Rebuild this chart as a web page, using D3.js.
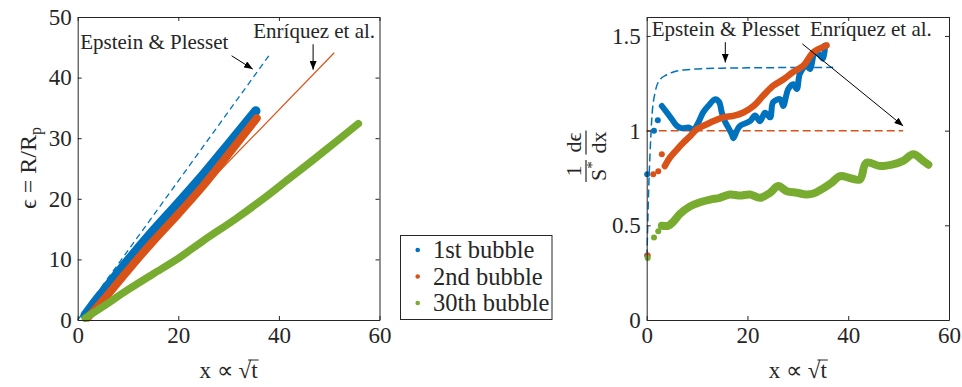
<!DOCTYPE html>
<html>
<head>
<meta charset="utf-8">
<script src="https://cdn.jsdelivr.net/npm/d3@7"></script>
<style>
  body { margin: 0; background: #fff; }
  svg { display: block; }
  svg text { font-family: "Liberation Serif", "Times New Roman", serif !important; fill: #262626; }
</style>
</head>
<body>
<script>
const blue = '#0072BD', orange = '#D95319', green = '#77AC30'

// left panel: epsilon vs x
const leftBlue = [[1.5,0.8],[3,2.5],[5,4.6],[10,9.8],[15,14.7],[20,19.3],[25,24],[30,29],[35.4,34.5]]
const leftOrange = [[2,0.4],[5,3.2],[10,8.2],[15,13],[20,17.5],[25,22.2],[30,27.4],[35.6,33.3]]
const leftGreen = [[1.5,0.3],[5,2.2],[10,5.0],[15,7.6],[19.7,10],[25,13.1],[31.6,16.8],[36.9,20],[42,23.3],[46.8,26.4],[51,29.2],[55.8,32.4]]
const epsteinLeft = [[0,0],[38,43.6]]
const enriquezLeft = [[5,4.7],[51,44.1]]

// right panel: normalised growth rate vs x
const epsteinRight = [[0.05,0.33],[0.2,0.5],[0.4,0.7],[0.65,0.87],[1.0,1.06],[1.65,1.2],[2.64,1.27],[4,1.295],[5.3,1.31],[8,1.322],[15,1.33],[37,1.334]]
const enriquezRight = [[0,1],[50.9,1]]
const rightBlueHead = [[0.1,0.77],[0.1,0.34],[1.45,1.0],[2.2,1.055]]
const rightBlue = [[3.0,1.13],[4.0,1.096],[5.0,1.06],[6.0,1.025],[6.9,1.013],[8.3,1.016],[9.3,1.007],[10.2,1.04],[11.2,1.096],[12.2,1.13],[13.6,1.166],[14.4,1.15],[14.9,1.096],[15.5,1.05],[16.2,1.016],[16.9,0.98],[17.2,0.96],[17.9,1.0],[18.5,1.025],[20.5,1.05],[21.5,1.08],[22.5,1.05],[23.5,1.095],[24.5,1.07],[25.1,1.15],[26.5,1.166],[27.1,1.13],[28.1,1.22],[29.1,1.245],[29.8,1.22],[30.4,1.3],[31.7,1.345],[32.4,1.325],[33.4,1.414],[34.3,1.4],[35,1.38],[35.4,1.45]]
const rightOrangeHead = [[0.2,0.34],[1.3,0.77],[2.3,0.785],[3.0,0.875]]
const rightOrange = [[3.6,0.813],[4.6,0.857],[6,0.9],[7.3,0.937],[8.6,0.97],[9.9,1.007],[11.2,1.025],[13.2,1.05],[15.2,1.07],[17.2,1.078],[19.2,1.096],[21.2,1.13],[23.1,1.184],[25.1,1.237],[27.1,1.27],[29.1,1.31],[31.1,1.343],[33.1,1.414],[35.7,1.45]]
const rightGreenHead = [[0.2,0.327],[1.45,0.436],[2.3,0.468]]
const rightGreen = [[3.0,0.498],[4.3,0.498],[5.3,0.52],[6.6,0.56],[8.6,0.6],[10.6,0.622],[12.6,0.636],[14.5,0.645],[16.5,0.663],[18.5,0.657],[20.5,0.663],[22.5,0.645],[24.5,0.672],[26.1,0.707],[27.8,0.68],[29.8,0.672],[31.7,0.663],[33.1,0.668],[34.7,0.69],[36.7,0.725],[38.4,0.76],[40.3,0.75],[42.3,0.742],[43.6,0.83],[46.3,0.813],[48.9,0.822],[50.9,0.84],[52.9,0.875],[54.9,0.84],[55.9,0.82]]

const xTicks = [0, 20, 40, 60]
const leftYTicks = [0, 10, 20, 30, 40, 50]
const rightYTicks = [0, 0.5, 1, 1.5]
const legendLabels = ['1st bubble', '2nd bubble', '30th bubble']
const legendColors = [blue, orange, green]

// annotations, in data units: [text x, text y], arrow [tail, head]
const annLeft = [
  {text: 'Epstein & Plesset', at: [0.5, 44.7], arrow: [[30.6, 43.6], [34.8, 41.4]]},
  {text: 'Enríquez et al.', at: [34.9, 46.5], arrow: [[46.8, 45.5], [46.8, 41.3]]},
]
const annRight = [
  {text: 'Epstein & Plesset', at: [1.0, 1.499], arrow: [[15.6, 1.467], [15.6, 1.36]]},
  {text: 'Enríquez et al.', at: [32.4, 1.499], arrow: [[30.9, 1.458], [50.9, 1.025]]},
]

const W = 962, H = 387
const SERIF = '"Liberation Serif", "Times New Roman", serif'
const svg = d3.select('body').append('svg').attr('width', W).attr('height', H)

svg.append('defs').append('marker')
  .attr('id', 'head')
  .attr('markerUnits', 'userSpaceOnUse')
  .attr('viewBox', '0 0 10 8')
  .attr('refX', 10).attr('refY', 4)
  .attr('markerWidth', 9).attr('markerHeight', 7)
  .attr('orient', 'auto')
  .append('path').attr('d', 'M0,0 L10,4 L0,8 Z').attr('fill', '#000')

const FS = 23

function frame(x, y, yTicks, yFormat) {
  const [x0, x1] = x.range(), [y0, y1] = y.range()
  const ax = g => {
    g.attr('font-family', SERIF).attr('font-size', FS)
    g.selectAll('.domain').attr('stroke', '#262626')
    g.selectAll('.tick line').attr('stroke', '#262626')
    g.selectAll('text').attr('fill', '#262626')
  }
  svg.append('g').attr('transform', `translate(0,${y0})`)
    .call(d3.axisBottom(x).tickValues(xTicks).tickSize(-4).tickSizeOuter(0).tickPadding(7)).call(ax)
  svg.append('g').attr('transform', `translate(0,${y1})`)
    .call(d3.axisTop(x).tickValues(xTicks).tickSize(-4).tickSizeOuter(0).tickFormat('')).call(ax)
  svg.append('g').attr('transform', `translate(${x0},0)`)
    .call(d3.axisLeft(y).tickValues(yTicks).tickFormat(yFormat).tickSize(-4).tickSizeOuter(0).tickPadding(6)).call(ax)
  svg.append('g').attr('transform', `translate(${x1},0)`)
    .call(d3.axisRight(y).tickValues(yTicks).tickSize(-4).tickSizeOuter(0).tickFormat('')).call(ax)
}

function xLabel(cx) {
  const t = svg.append('text').attr('x', cx).attr('y', 378).attr('text-anchor', 'middle')
    .attr('font-size', FS).text('x ∝ √t')
  const n = t.text().length
  const node = t.node()
  const s = node.getStartPositionOfChar(n - 2)
  const e = node.getEndPositionOfChar(n - 1)
  const b = node.getExtentOfChar(n - 2)
  svg.append('line')
    .attr('x1', s.x + (e.x - s.x) * 0.5).attr('x2', e.x + 1)
    .attr('y1', b.y + 2).attr('y2', b.y + 2)
    .attr('stroke', '#262626').attr('stroke-width', 1)
}

function annotate(x, y, list) {
  list.forEach(a => {
    svg.append('text').attr('x', x(a.at[0])).attr('y', y(a.at[1]))
      .attr('font-size', 21).attr('fill', '#000').text(a.text)
    svg.append('line')
      .attr('x1', x(a.arrow[0][0])).attr('y1', y(a.arrow[0][1]))
      .attr('x2', x(a.arrow[1][0])).attr('y2', y(a.arrow[1][1]))
      .attr('stroke', '#000').attr('stroke-width', 1)
      .attr('marker-end', 'url(#head)')
  })
}

function band(x, y, pts, color, w, curve) {
  svg.append('path').datum(pts)
    .attr('d', d3.line().x(d => x(d[0])).y(d => y(d[1])).curve(curve || d3.curveLinear))
    .attr('fill', 'none').attr('stroke', color).attr('stroke-width', w)
    .attr('stroke-linejoin', 'round').attr('stroke-linecap', 'round')
}

function dots(x, y, pts, color, r) {
  svg.append('g').selectAll('circle').data(pts).join('circle')
    .attr('cx', d => x(d[0])).attr('cy', d => y(d[1])).attr('r', r).attr('fill', color)
}

// ---------- left panel ----------
const xL = d3.scaleLinear().domain([0, 60]).range([77.7, 379.5])
const yL = d3.scaleLinear().domain([0, 50]).range([320, 17])

const lineL = d3.line().x(d => xL(d[0])).y(d => yL(d[1]))
svg.append('path').datum(epsteinLeft).attr('d', lineL)
  .attr('fill', 'none').attr('stroke', blue).attr('stroke-width', 1.3).attr('stroke-dasharray', '6,4')
svg.append('path').datum(enriquezLeft).attr('d', lineL)
  .attr('fill', 'none').attr('stroke', orange).attr('stroke-width', 1.2)

band(xL, yL, leftBlue, blue, 9.5, d3.curveMonotoneX)
band(xL, yL, leftOrange, orange, 8, d3.curveMonotoneX)
band(xL, yL, leftGreen, green, 7.5, d3.curveMonotoneX)

frame(xL, yL, leftYTicks, d3.format('d'))
xLabel((77.7 + 379.5) / 2)
annotate(xL, yL, annLeft)

const yLab = svg.append('text').attr('transform', 'translate(36,168) rotate(-90)')
  .attr('text-anchor', 'middle').attr('font-size', 24)
yLab.append('tspan').text('ϵ = R/R')
yLab.append('tspan').attr('font-size', 16).attr('dy', 5).text('p')

// ---------- legend ----------
const lg = svg.append('g')
lg.append('rect').attr('x', 400.5).attr('y', 235.5).attr('width', 151.5).attr('height', 84)
  .attr('fill', '#fff').attr('stroke', '#262626').attr('stroke-width', 1)
const items = lg.selectAll('g.item').data(legendLabels).join('g')
  .attr('transform', (_, i) => `translate(0,${250 + i * 26.5})`)
items.append('circle').attr('cx', 417.7).attr('cy', 0).attr('r', 2.3).attr('fill', (_, i) => legendColors[i])
items.append('text').attr('x', 433).attr('y', 8).attr('font-size', 24.5).attr('fill', '#000').text(d => d)

// ---------- right panel ----------
const xR = d3.scaleLinear().domain([0, 60]).range([646.7, 949])
const yR = d3.scaleLinear().domain([0, 1.6]).range([320, 17])

const curveR = d3.line().x(d => xR(d[0])).y(d => yR(d[1])).curve(d3.curveMonotoneX)
svg.append('path').datum(epsteinRight).attr('d', curveR)
  .attr('fill', 'none').attr('stroke', blue).attr('stroke-width', 1.5).attr('stroke-dasharray', '8,4')
svg.append('path').datum(enriquezRight).attr('d', curveR)
  .attr('fill', 'none').attr('stroke', orange).attr('stroke-width', 1.5).attr('stroke-dasharray', '8,4')

const smooth = d3.curveCatmullRom.alpha(0.5)
band(xR, yR, rightBlue, blue, 6, smooth)
dots(xR, yR, rightBlueHead, blue, 3)
band(xR, yR, rightOrange, orange, 6.5, smooth)
dots(xR, yR, rightOrangeHead, orange, 3)
band(xR, yR, rightGreen, green, 8, smooth)
dots(xR, yR, rightGreenHead, green, 3)

frame(xR, yR, rightYTicks, d => d === 0 ? '0' : d3.format('')(d))
xLabel((646.7 + 949) / 2)
annotate(xR, yR, annRight)

// 1/S* dε/dx, rotated
const fr = svg.append('g').attr('transform', 'translate(586,162) rotate(-90)')
const frac = (cx, num, den, w) => {
  fr.append('text').attr('x', cx).attr('y', -5).attr('text-anchor', 'middle').attr('font-size', 22).text(num)
  const d = fr.append('text').attr('x', cx).attr('y', 20).attr('text-anchor', 'middle').attr('font-size', 22)
  d.append('tspan').text(den[0])
  if (den[1]) d.append('tspan').attr('font-size', 15).attr('dy', -9).text(den[1])
  fr.append('line').attr('x1', cx - w / 2).attr('x2', cx + w / 2).attr('y1', 0).attr('y2', 0)
    .attr('stroke', '#262626').attr('stroke-width', 1.2)
}
frac(-9, '1', ['S', '*'], 22)
frac(19.5, 'dϵ', ['dx'], 24)
</script>
</body>
</html>
